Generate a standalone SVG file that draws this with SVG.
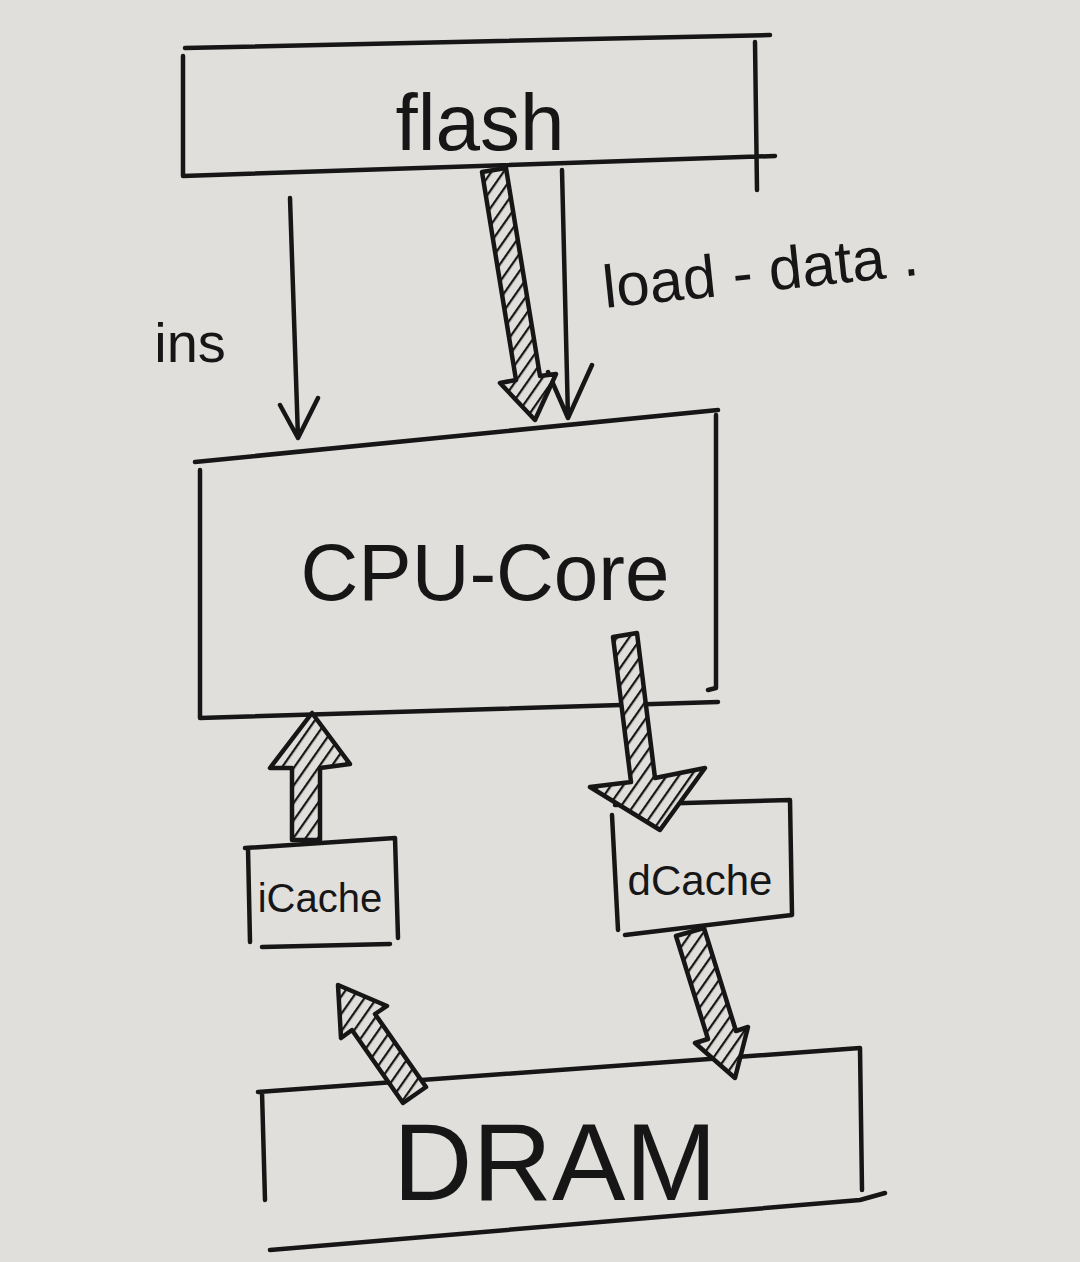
<svg xmlns="http://www.w3.org/2000/svg" width="1080" height="1262" viewBox="0 0 1080 1262">
<defs>
<style>
.ln{fill:none;stroke:#161616;stroke-width:4.5;stroke-linecap:round;stroke-linejoin:round}
.hat{fill:url(#hatch);stroke:#161616;stroke-width:4.5;stroke-linejoin:round}
.lbl{font-family:"Liberation Sans","DejaVu Sans",sans-serif;fill:#161616}
</style>
<pattern id="hatch" patternUnits="userSpaceOnUse" width="10" height="10" patternTransform="rotate(35)">
<rect width="10" height="10" fill="#e0dfdc"/>
<line x1="0" y1="0" x2="0" y2="10" stroke="#161616" stroke-width="4.5"/>
</pattern>
</defs>
<rect width="1080" height="1262" fill="#e0dfdc"/>

<g id="flash">
<path class="ln" d="M185,48 L770,35 M183,56 L183,176 L775,156 M755,42 L757,190"/>
<text class="lbl" x="480" y="150" font-size="80" text-anchor="middle">flash</text>
</g>

<g id="cpu-core">
<path class="ln" d="M195,462 L718,410 M200,470 L200,718 L718,702 M716,415 L716,688 L708,690"/>
<text class="lbl" x="485" y="600" font-size="80" text-anchor="middle">CPU-Core</text>
</g>

<g id="icache">
<path class="ln" d="M245,848 L395,838 L398,938 M248,848 L250,942 M262,947 L390,944"/>
<text class="lbl" x="320" y="912" font-size="40" text-anchor="middle">iCache</text>
</g>

<g id="dcache">
<path class="ln" d="M615,805 L790,800 L792,915 L625,935 M612,815 L618,930"/>
<text class="lbl" x="700" y="895" font-size="42" text-anchor="middle">dCache</text>
</g>

<g id="dram">
<path class="ln" d="M258,1092 L860,1048 L862,1190 M262,1092 L265,1200 M270,1250 L860,1200 L885,1193"/>
<text class="lbl" x="555" y="1200" font-size="110" text-anchor="middle">DRAM</text>
</g>

<g id="labels">
<text class="lbl" x="190" y="362" font-size="56" text-anchor="middle">ins</text>
<text class="lbl" x="605" y="308" font-size="60" transform="rotate(-6 605 308)">load - data .</text>
</g>

<g id="connectors">
<!-- ins: flash -> CPU -->
<path class="ln" d="M290,198 L298,438 M280,405 L298,438 L318,398"/>
<!-- load-data: thin flash -> CPU -->
<path class="ln" d="M562,170 L568,418 M548,372 L568,418 L592,365"/>
<!-- hatched flash -> CPU -->
<polygon class="hat" points="482,172 506,168 540,376 556,374 535,420 500,383 516,380"/>
<!-- hatched CPU -> dCache -->
<polygon class="hat" points="613,637 637,633 655,778 705,768 660,830 590,787 631,782"/>
<!-- hatched iCache -> CPU -->
<polygon class="hat" points="292,840 320,840 320,768 350,764 312,713 270,768 292,768"/>
<!-- hatched DRAM -> iCache -->
<polygon class="hat" points="426,1087 403,1103 352,1030 341,1038 338,985 387,1006 375,1014"/>
<!-- hatched dCache -> DRAM -->
<polygon class="hat" points="676,936 704,928 736,1031 748,1027 735,1078 695,1043 708,1039"/>
</g>
</svg>
